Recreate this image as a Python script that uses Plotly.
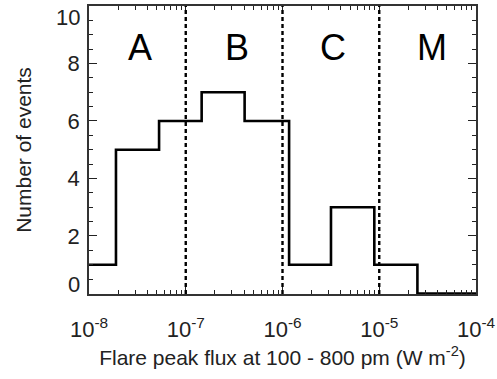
import math
import plotly.graph_objects as go

# Histogram: left edges of each bin (W m^-2) and number of events in each bin
bin_left = [1.0e-8, 1.90e-8, 5.30e-8, 1.46e-7, 4.06e-7, 1.17e-6, 3.17e-6, 8.89e-6, 2.48e-5]
bin_right_end = 1.0e-4
counts = [1, 5, 6, 7, 6, 1, 3, 1, 0]

# GOES class boundaries and labels
class_bounds = [1e-7, 1e-6, 1e-5]
class_labels = ["A", "B", "C", "M"]
class_label_x = [3.4e-8, 3.4e-7, 3.3e-6, 3.5e-5]
class_label_y = 8.55

# Axis ticks
x_tickvals = [1e-8, 1e-7, 1e-6, 1e-5, 1e-4]
x_ticktext = ["10<sup>-8</sup>", "10<sup>-7</sup>", "10<sup>-6</sup>", "10<sup>-5</sup>", "10<sup>-4</sup>"]
x_minor = [k * 10.0 ** e for e in range(-8, -4) for k in range(2, 10)]
y_tickvals = [0, 2, 4, 6, 8, 10]
y_ticktext = ["0", "2", "4", "6", "8", "10"]
# end labels (0 and 10) are drawn nudged inward, as in the original figure
y_end_labels = {0: 9, 10: -11}

FONT = "Liberation Sans, Arial, Helvetica, sans-serif"
TICKFONT = dict(family=FONT, size=22, color="#222")

fig = go.Figure()

fig.add_trace(go.Scatter(
    x=bin_left + [bin_right_end],
    y=counts + [counts[-1]],
    mode="lines",
    line=dict(shape="hv", color="black", width=2.6),
    showlegend=False,
    hoverinfo="skip",
))

for xb in class_bounds:
    fig.add_vline(x=xb, line=dict(color="black", width=2.4, dash="4px,3px"))

for lab, lx in zip(class_labels, class_label_x):
    fig.add_annotation(x=math.log10(lx), y=class_label_y, xref="x", yref="y", text=lab,
                       showarrow=False, font=dict(family=FONT, size=36, color="black"))

shown_ticktext = [("" if v in y_end_labels else t) for v, t in zip(y_tickvals, y_ticktext)]
for v, t in zip(y_tickvals, y_ticktext):
    if v in y_end_labels:
        fig.add_annotation(x=0, y=v, xref="paper", yref="y", text=t, showarrow=False,
                           xanchor="right", yanchor="middle", xshift=-7, yshift=y_end_labels[v],
                           font=TICKFONT)

axis_common = dict(
    showline=True, linecolor="#333", linewidth=1.5, mirror="ticks",
    ticks="inside", ticklen=8, tickwidth=1.3, tickcolor="#222",
    showgrid=False, zeroline=False, automargin=False,
    ticklabeloverflow="allow",
    tickfont=TICKFONT,
    title_font=dict(family=FONT, size=21, color="#222"),
)

fig.update_xaxes(
    type="log", range=[-8, -4],
    tickmode="array", tickvals=x_tickvals, ticktext=x_ticktext,
    minor=dict(ticks="inside", ticklen=4, tickwidth=1.1, tickcolor="#222", tickvals=x_minor, showgrid=False),
    title_text="Flare peak flux at 100 - 800 pm (W m<sup>-2</sup>)",
    title_standoff=9,
    ticklabelstandoff=15,
    **axis_common,
)
fig.update_yaxes(
    range=[-0.02, 10.001], tickmode="array", tickvals=y_tickvals, ticktext=shown_ticktext,
    minor=dict(ticks="inside", ticklen=4, tickwidth=1.1, tickcolor="#222", dtick=0.5, tick0=0, showgrid=False),
    title_text="Number of events",
    title_standoff=30,
    ticklabelstandoff=3,
    **axis_common,
)

fig.update_layout(
    width=497, height=379,
    margin=dict(l=89, r=21, t=6, b=85),
    paper_bgcolor="white", plot_bgcolor="white",
    font=dict(family=FONT, color="#222"),
)

fig.write_html("out.html", config={"displayModeBar": False},
               post_script="document.body.style.margin='0';")
